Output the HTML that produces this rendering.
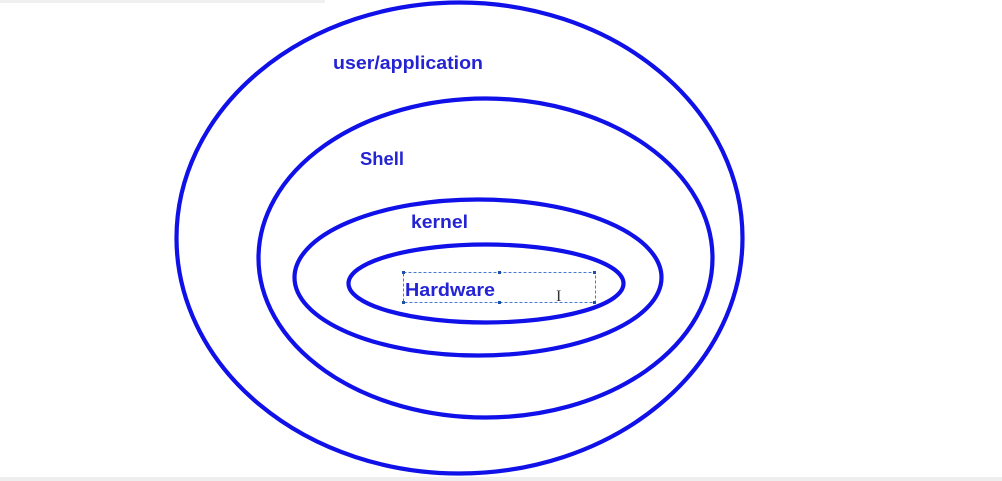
<!DOCTYPE html>
<html><head><meta charset="utf-8"><style>
html,body{margin:0;padding:0;background:#fff;}
body{width:1002px;height:481px;overflow:hidden;position:relative;}
svg{position:absolute;left:0;top:0;}
</style></head><body>
<svg width="1002" height="481" viewBox="0 0 1002 481" xmlns="http://www.w3.org/2000/svg">
<rect x="0" y="0" width="325" height="3" fill="#f0f0f0"/>
<rect x="0" y="477" width="1002" height="4" fill="#eeeeee"/>
<g fill="none" stroke="#1010e8" stroke-width="4.2">
<ellipse cx="459.5" cy="238" rx="283" ry="235.5"/>
<ellipse cx="485.5" cy="258" rx="227" ry="159.5"/>
<ellipse cx="478" cy="277.5" rx="183.5" ry="78"/>
<ellipse cx="486" cy="283.5" rx="137.5" ry="39"/>
</g>
<rect x="403.5" y="272.5" width="192" height="30" fill="none" stroke="#4a7ad0" stroke-width="1" stroke-dasharray="3,2"/>
<g fill="#1a50a8">
<rect x="402" y="271" width="3" height="3"/><rect x="498" y="271" width="3" height="3"/><rect x="593" y="271" width="3" height="3"/>
<rect x="402" y="301" width="3" height="3"/><rect x="498" y="301" width="3" height="3"/><rect x="593" y="301" width="3" height="3"/>
</g>
<g font-family="Liberation Sans, sans-serif" font-weight="bold" font-size="18" fill="#2424d4" lengthAdjust="spacingAndGlyphs">
<text x="333" y="69" textLength="150" lengthAdjust="spacingAndGlyphs">user/application</text>
<text x="360" y="165" textLength="44" lengthAdjust="spacingAndGlyphs">Shell</text>
<text x="411" y="228" textLength="57" lengthAdjust="spacingAndGlyphs">kernel</text>
<text x="405" y="296" textLength="90" lengthAdjust="spacingAndGlyphs">Hardware</text>
</g>
<text x="556" y="301" font-family="Liberation Serif, serif" font-size="16" fill="#333">I</text>
</svg>
</body></html>
